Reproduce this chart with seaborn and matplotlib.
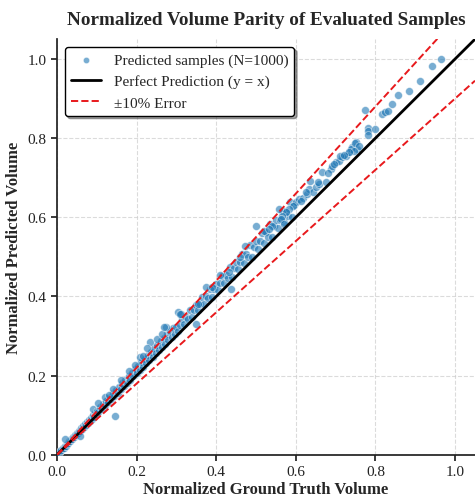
import numpy as np
import pandas as pd
import matplotlib
matplotlib.use("Agg")
import matplotlib.pyplot as plt
import seaborn as sns

# valores (aprox.)
gt_vol = [
    # 0 - 0.1
    0.004, 0.008, 0.011, 0.014, 0.017, 0.020, 0.022, 0.025, 0.028, 0.030,
    0.033, 0.035, 0.038, 0.040, 0.043, 0.045, 0.048, 0.050, 0.053, 0.055,
    0.058, 0.060, 0.062, 0.065, 0.068, 0.070, 0.072, 0.075, 0.078, 0.080,
    0.082, 0.085, 0.088, 0.090, 0.092, 0.095, 0.098, 0.020, 0.058, 0.091,
    # 0.1 - 0.3
    0.100, 0.104, 0.108, 0.112, 0.116, 0.120, 0.124, 0.128, 0.132, 0.136,
    0.140, 0.144, 0.148, 0.152, 0.156, 0.160, 0.164, 0.168, 0.172, 0.176,
    0.180, 0.184, 0.188, 0.192, 0.196, 0.200, 0.204, 0.208, 0.212, 0.216,
    0.220, 0.224, 0.228, 0.232, 0.236, 0.240, 0.244, 0.248, 0.252, 0.256,
    0.260, 0.264, 0.268, 0.272, 0.276, 0.280, 0.284, 0.288, 0.292, 0.296,
    0.103, 0.145, 0.141, 0.208, 0.233, 0.250, 0.225, 0.275, 0.180, 0.120,
    0.160, 0.195, 0.215, 0.265, 0.130,
    # 0.3 - 0.6
    0.300, 0.305, 0.310, 0.315, 0.320, 0.325, 0.330, 0.335, 0.340, 0.345,
    0.350, 0.355, 0.360, 0.365, 0.370, 0.375, 0.380, 0.385, 0.390, 0.395,
    0.400, 0.405, 0.410, 0.415, 0.420, 0.425, 0.430, 0.435, 0.440, 0.445,
    0.450, 0.455, 0.460, 0.465, 0.470, 0.475, 0.480, 0.485, 0.490, 0.495,
    0.500, 0.505, 0.510, 0.515, 0.520, 0.525, 0.530, 0.535, 0.540, 0.545,
    0.550, 0.555, 0.560, 0.565, 0.570, 0.575, 0.580, 0.585, 0.590, 0.595,
    0.304, 0.312, 0.350, 0.308, 0.270, 0.375, 0.437, 0.433, 0.471, 0.500,
    0.354, 0.410, 0.520, 0.460, 0.390,
    # 0.6 - 0.75
    0.600, 0.608, 0.617, 0.629, 0.633, 0.642, 0.650, 0.658, 0.675, 0.635,
    0.665, 0.688, 0.692, 0.700, 0.708, 0.717, 0.725, 0.733, 0.742, 0.750,
    0.754, 0.592, 0.583, 0.575, 0.566, 0.562, 0.558, 0.571, 0.541, 0.533,
    0.612, 0.625, 0.655, 0.680, 0.695, 0.712, 0.738,
    # > 0.75
    0.748, 0.758, 0.745, 0.733, 0.721, 0.773, 0.782, 0.782, 0.782, 0.798,
    0.817, 0.825, 0.832, 0.842, 0.857, 0.884, 0.912, 0.942, 0.965,
]
pred_vol = [
    0.005, 0.009, 0.012, 0.016, 0.018, 0.023, 0.023, 0.028, 0.029, 0.034,
    0.035, 0.039, 0.040, 0.045, 0.045, 0.050, 0.050, 0.056, 0.055, 0.061,
    0.060, 0.067, 0.065, 0.072, 0.070, 0.078, 0.075, 0.083, 0.081, 0.088,
    0.085, 0.094, 0.091, 0.100, 0.096, 0.105, 0.102, 0.040, 0.048, 0.115,
    0.110, 0.108, 0.120, 0.116, 0.128, 0.126, 0.137, 0.133, 0.146, 0.141,
    0.155, 0.149, 0.163, 0.157, 0.172, 0.165, 0.181, 0.173, 0.190, 0.182,
    0.198, 0.190, 0.207, 0.198, 0.216, 0.206, 0.225, 0.214, 0.234, 0.223,
    0.242, 0.231, 0.251, 0.239, 0.260, 0.247, 0.269, 0.256, 0.278, 0.264,
    0.287, 0.272, 0.296, 0.281, 0.304, 0.289, 0.313, 0.297, 0.321, 0.305,
    0.132, 0.097, 0.166, 0.246, 0.284, 0.292, 0.271, 0.322, 0.211, 0.146,
    0.188, 0.228, 0.250, 0.305, 0.152,
    0.324, 0.314, 0.329, 0.343, 0.330, 0.348, 0.343, 0.365, 0.347, 0.366,
    0.378, 0.366, 0.382, 0.398, 0.381, 0.401, 0.395, 0.420, 0.398, 0.419,
    0.432, 0.417, 0.435, 0.452, 0.433, 0.455, 0.447, 0.474, 0.449, 0.472,
    0.486, 0.469, 0.488, 0.507, 0.484, 0.508, 0.499, 0.529, 0.500, 0.525,
    0.540, 0.520, 0.541, 0.561, 0.536, 0.562, 0.551, 0.583, 0.551, 0.578,
    0.594, 0.572, 0.594, 0.616, 0.587, 0.615, 0.603, 0.638, 0.602, 0.631,
    0.360, 0.356, 0.330, 0.356, 0.322, 0.423, 0.419, 0.461, 0.528, 0.579,
    0.382, 0.455, 0.565, 0.500, 0.425,
    0.638, 0.646, 0.650, 0.659, 0.671, 0.663, 0.676, 0.684, 0.688, 0.692,
    0.715, 0.722, 0.730, 0.739, 0.743, 0.752, 0.756, 0.764, 0.777, 0.789,
    0.773, 0.629, 0.621, 0.613, 0.604, 0.596, 0.621, 0.583, 0.579, 0.570,
    0.640, 0.665, 0.690, 0.712, 0.735, 0.755, 0.772,
    0.788, 0.781, 0.768, 0.764, 0.757, 0.871, 0.826, 0.817, 0.808, 0.823,
    0.862, 0.867, 0.869, 0.886, 0.910, 0.919, 0.944, 0.983, 1.000,
]
assert len(gt_vol) == len(pred_vol)

n_samples = 1000
ref_line = [0.0, 1.05]
err_frac = 0.10

df = pd.DataFrame({"gt": gt_vol, "pred": pred_vol})

sns.set_theme(style="ticks")
plt.rcParams["font.family"] = ["Liberation Serif", "DejaVu Serif"]
plt.rcParams["mathtext.fontset"] = "stix"

fig, ax = plt.subplots(figsize=(4.75, 5.02), dpi=100)
fig.subplots_adjust(left=0.12, right=1.0, bottom=0.092, top=0.92)

sns.scatterplot(data=df, x="gt", y="pred", ax=ax, color="#1f77b4", alpha=0.6,
                s=32, edgecolor="white", linewidth=0.5,
                label=f"Predicted samples (N={n_samples})", zorder=3)

line = np.array(ref_line)
ax.plot(line, line, color="black", lw=2, label="Perfect Prediction (y = x)", zorder=4)
ax.plot(line, line * (1 + err_frac), color="#e8191c", ls="--", lw=1.4,
        label="±10% Error", zorder=4)
ax.plot(line, line * (1 - err_frac), color="#e8191c", ls="--", lw=1.4, zorder=4)

ax.set_xlim(0, 1.05)
ax.set_ylim(0, 1.05)
ax.grid(True, linestyle="--", color="#cccccc", alpha=0.7, lw=0.8)
sns.despine(ax=ax)
ax.spines["left"].set_color("#222222")
ax.spines["bottom"].set_color("#222222")
ax.tick_params(labelsize=11, colors="#222222", length=4)

ax.set_title("Normalized Volume Parity of Evaluated Samples", fontsize=13.8,
             fontweight="bold", pad=11)
ax.set_xlabel("Normalized Ground Truth Volume", fontsize=12, fontweight="bold", labelpad=2)
ax.set_ylabel("Normalized Predicted Volume", fontsize=12, fontweight="bold")

leg = ax.legend(loc="upper left", fontsize=11, frameon=True, fancybox=True,
                shadow=True, framealpha=1, borderpad=0.4, markerscale=0.8)
leg.get_frame().set_edgecolor("black")
leg.get_frame().set_linewidth(1.0)

plt.savefig("out.png", dpi=100)
